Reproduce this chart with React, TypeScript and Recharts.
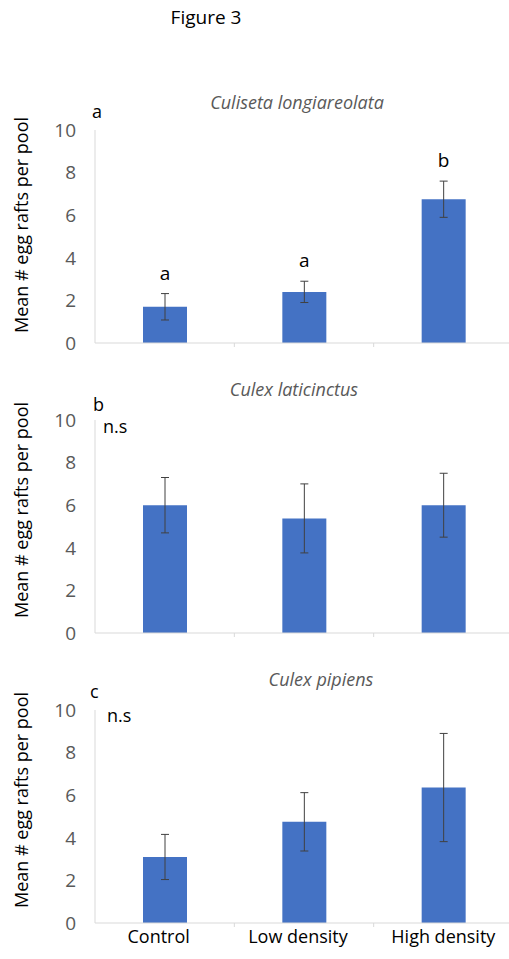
import { BarChart, Bar, XAxis, YAxis, ErrorBar, LabelList } from "recharts";

const categories = ["Control", "Low density", "High density"];
const yTicks = [0, 2, 4, 6, 8, 10];

// Culiseta longiareolata
const culisetaMeans = [1.7, 2.4, 6.75];
const culisetaErr = [0.62, 0.5, 0.85];
const culisetaLetters = ["a", "a", "b"];

// Culex laticinctus
const laticinctusMeans = [6.0, 5.38, 6.0];
const laticinctusErr = [1.3, 1.62, 1.5];

// Culex pipiens
const pipiensMeans = [3.1, 4.75, 6.36];
const pipiensErr = [1.06, 1.37, 2.54];

const FONT = "'Open Sans', sans-serif";
const BLUE = "#4472C4";
const GRID = "#d9d9d9";
const GREY_TEXT = "#595959";

const CHART_W = 520;
const CHART_H = 290;
const MARGIN = { top: 40, right: 7, left: 0, bottom: 0 };
const Y_AXIS_W = 95;
const X_AXIS_H = 37;
const PLOT_W = CHART_W - MARGIN.left - MARGIN.right - Y_AXIS_W;
const PLOT_H = CHART_H - MARGIN.top - MARGIN.bottom - X_AXIS_H;
const HALF_BAND = PLOT_W / categories.length / 2;

type Row = { category: string; mean: number; err: number; letter: string };

const makeRows = (means: number[], errs: number[], letters?: string[]): Row[] =>
  categories.map((c, i) => ({ category: c, mean: means[i], err: errs[i], letter: letters ? letters[i] : "" }));

const panels = [
  { top: 90, title: "Culiseta longiareolata", titleX: 297, titleY: 13, tag: "a", tagX: 92, tagY: 23, note: "", noteX: 0, noteY: 0, rows: makeRows(culisetaMeans, culisetaErr, culisetaLetters), showX: false, yLabelY: 135 },
  { top: 380, title: "Culex laticinctus", titleX: 294, titleY: 10, tag: "b", tagX: 93, tagY: 26, note: "n.s", noteX: 103, noteY: 48, rows: makeRows(laticinctusMeans, laticinctusErr), showX: false, yLabelY: 130 },
  { top: 670, title: "Culex pipiens", titleX: 321, titleY: 10, tag: "c", tagX: 90, tagY: 23, note: "n.s", noteX: 107, noteY: 47, rows: makeRows(pipiensMeans, pipiensErr), showX: true, yLabelY: 130 },
];

const CategoryTick = ({ x, y, payload, index, show }: any) => (
  <g>
    {index < categories.length - 1 && (
      <line x1={x + HALF_BAND} x2={x + HALF_BAND} y1={y - 8} y2={y - 4} stroke={GRID} />
    )}
    {show && (
      <text
        x={index < categories.length - 1 ? x - 6 : x}
        y={y + 12}
        textAnchor="middle"
        fontSize={18}
        fill="#000"
        fontFamily={FONT}
      >
        {payload.value}
      </text>
    )}
  </g>
);

const LetterLabel = (rows: Row[]) => (props: any) => {
  const { x, y, width, index } = props;
  const row = rows[index];
  if (!row || !row.letter) return null;
  const errTop = y - (row.err / 10) * PLOT_H;
  return (
    <text x={x + width / 2} y={errTop - 14} textAnchor="middle" fontSize={19} fill="#000" fontFamily={FONT}>
      {row.letter}
    </text>
  );
};

const Panel = ({ p }: { p: (typeof panels)[number] }) => (
  <div style={{ position: "absolute", left: 0, top: p.top, width: CHART_W, height: CHART_H }}>
    <BarChart width={CHART_W} height={CHART_H} data={p.rows} margin={MARGIN} barSize={44}>
      <XAxis
        dataKey="category"
        height={X_AXIS_H}
        axisLine={{ stroke: GRID }}
        tickLine={false}
        tickSize={0}
        tickMargin={8}
        interval={0}
        tick={(props: any) => <CategoryTick {...props} show={p.showX} />}
      />
      <YAxis
        width={Y_AXIS_W}
        domain={[0, 10]}
        ticks={yTicks}
        axisLine={{ stroke: GRID }}
        tickLine={false}
        tickSize={0}
        tickMargin={19}
        tick={{ fill: GREY_TEXT, fontSize: 19, fontFamily: FONT }}
      />
      <Bar dataKey="mean" fill={BLUE} isAnimationActive={false}>
        <ErrorBar dataKey="err" width={4} stroke="#404040" strokeWidth={1} direction="y" />
        <LabelList dataKey="letter" content={LetterLabel(p.rows)} />
      </Bar>
    </BarChart>
    <svg
      width={CHART_W}
      height={CHART_H}
      style={{ position: "absolute", left: 0, top: 0, pointerEvents: "none", overflow: "visible" }}
    >
      <text x={p.titleX} y={p.titleY + 1} textAnchor="middle" dominantBaseline="middle" fontSize={18} fontStyle="italic" fill={GREY_TEXT} fontFamily={FONT}>
        {p.title}
      </text>
      <text x={p.tagX} y={p.tagY} dominantBaseline="middle" fontSize={18} fill="#000" fontFamily={FONT}>
        {p.tag}
      </text>
      {p.note && (
        <text x={p.noteX} y={p.noteY} dominantBaseline="middle" fontSize={18} fill="#000" fontFamily={FONT}>
          {p.note}
        </text>
      )}
      <text
        x={23}
        y={p.yLabelY}
        textAnchor="middle"
        dominantBaseline="middle"
        fontSize={18}
        fill="#000"
        fontFamily={FONT}
        transform={`rotate(-90 23 ${p.yLabelY})`}
      >
        Mean # egg rafts per pool
      </text>
    </svg>
  </div>
);

export default function App() {
  return (
    <div style={{ position: "absolute", left: 0, top: 0, width: 509, height: 959, overflow: "hidden", background: "#fff", fontFamily: FONT }}>
      <svg width={509} height={40} style={{ position: "absolute", left: 0, top: 0 }}>
        <text x={206} y={19} textAnchor="middle" dominantBaseline="middle" fontSize={19} fill="#000" fontFamily={FONT}>
          Figure 3
        </text>
      </svg>
      {panels.map((p) => (
        <Panel key={p.title} p={p} />
      ))}
    </div>
  );
}
